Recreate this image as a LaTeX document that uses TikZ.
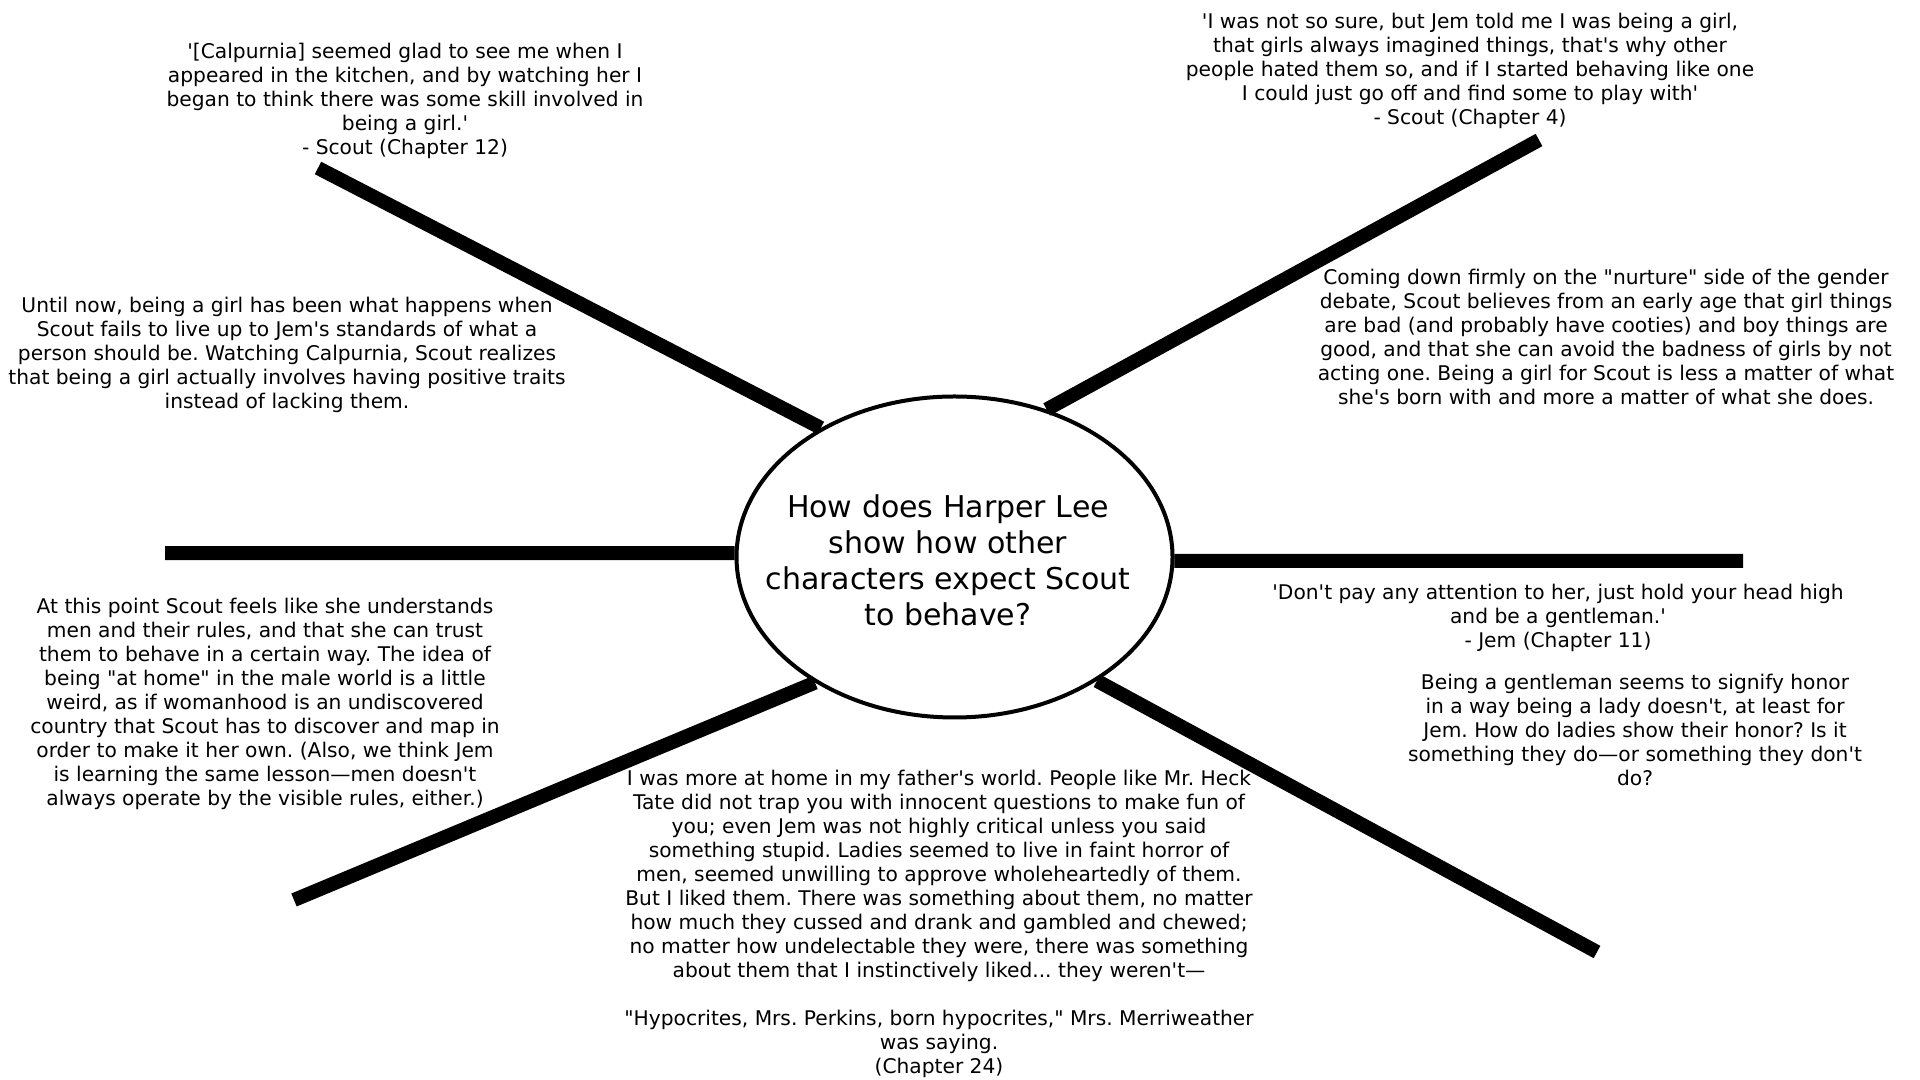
\documentclass[tikz,border=0pt]{standalone}
\usepackage{fontspec}
\newfontfamily\mapfont{DejaVu Sans}
\usetikzlibrary{shapes.geometric}
\tikzset{
	spoke/.style={line width=0.14cm},
	ask/.style={ellipse, draw, line width=0.04cm, fill=white, inner sep=0pt, minimum width=4.36cm, minimum height=3.21cm},
	asktext/.style={align=center, inner sep=0pt, font=\mapfont\frenchspacing\fontsize{8.54}{10.19}\selectfont},
	note/.style={align=center, inner sep=0pt, font=\mapfont\frenchspacing\fontsize{5.75}{6.83}\selectfont}
}

\begin{document}
\begin{tikzpicture}
		%%%%% START %%%%%
		\useasboundingbox (0, 0) rectangle (19.2, 10.8);
		\fill[white] (0, 0) rectangle (19.2, 10.8);
		
		\node[ask] (q) at (9.545, 5.23) {};
		\node[asktext] (qtext) at (9.48, 5.196) {How does Harper Lee\\ show how other\\ characters expect Scout\\ to behave?};
		
		\coordinate (ul) at (3.18, 9.12);
		\coordinate (ur) at (15.39, 9.40);
		\coordinate (l) at (1.65, 5.268);
		\coordinate (r) at (17.43, 5.192);
		\coordinate (ll) at (2.94, 1.80);
		\coordinate (lr) at (15.97, 1.28);
		
		\draw[spoke] (ul) -- (q.136);
		\draw[spoke] (ur) -- (q.58.7);
		\draw[spoke] (l) -- (q.179);
		\draw[spoke] (r) -- (q.-1);
		\draw[spoke] (ll) -- (q.222);
		\draw[spoke] (lr) -- (q.319.1);
		
		\node[note] (calp) at (4.05, 9.795) {'[Calpurnia] seemed glad to see me when I\\ appeared in the kitchen, and by watching her I\\ began to think there was some skill involved in\\ being a girl.'\\ - Scout (Chapter 12)};
		\node[note] (girl) at (14.70, 10.095) {'I was not so sure, but Jem told me I was being a girl,\\ that girls always imagined things, that's why other\\ people hated them so, and if I started behaving like one\\ I could just go off and find some to play with'\\ - Scout (Chapter 4)};
		\node[note] (until) at (2.87, 7.253) {Until now, being a girl has been what happens when\\ Scout fails to live up to Jem's standards of what a\\ person should be. Watching Calpurnia, Scout realizes\\ that being a girl actually involves having positive traits\\ instead of lacking them.};
		\node[note] (nurture) at (16.06, 7.43) {Coming down firmly on the "nurture" side of the gender\\ debate, Scout believes from an early age that girl things\\ are bad (and probably have cooties) and boy things are\\ good, and that she can avoid the badness of girls by not\\ acting one. Being a girl for Scout is less a matter of what\\ she's born with and more a matter of what she does.};
		\node[note] (home) at (2.65, 3.762) {At this point Scout feels like she understands\\ men and their rules, and that she can trust\\ them to behave in a certain way. The idea of\\ being "at home" in the male world is a little\\ weird, as if womanhood is an undiscovered\\ country that Scout has to discover and map in\\ order to make it her own. (Also, we think Jem\\ is learning the same lesson—men doesn't\\ always operate by the visible rules, either.)};
		\node[note] (gent) at (15.58, 4.62) {'Don't pay any attention to her, just hold your head high\\ and be a gentleman.'\\ - Jem (Chapter 11)};
		\node[note] (honor) at (16.35, 3.50) {Being a gentleman seems to signify honor\\ in a way being a lady doesn't, at least for\\ Jem. How do ladies show their honor? Is it\\ something they do—or something they don't\\ do?};
		\node[note] (father) at (9.39, 1.564) {I was more at home in my father's world. People like Mr. Heck\\ Tate did not trap you with innocent questions to make fun of\\ you; even Jem was not highly critical unless you said\\ something stupid. Ladies seemed to live in faint horror of\\ men, seemed unwilling to approve wholeheartedly of them.\\ But I liked them. There was something about them, no matter\\ how much they cussed and drank and gambled and chewed;\\ no matter how undelectable they were, there was something\\ about them that I instinctively liked... they weren't—\\ \mbox{}\\ "Hypocrites, Mrs. Perkins, born hypocrites," Mrs. Merriweather\\ was saying.\\ (Chapter 24)};
		%%%%% END %%%%%
	\end{tikzpicture}
\end{document}
